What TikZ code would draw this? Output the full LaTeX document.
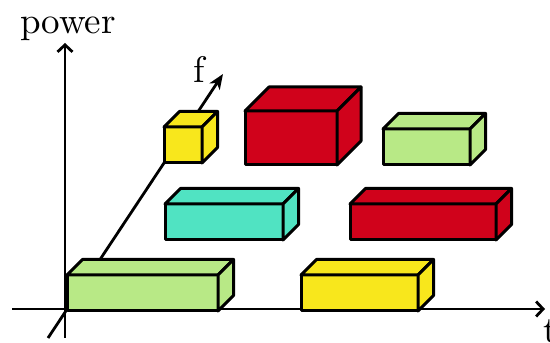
\documentclass[tikz,border=0pt]{standalone}
\usepackage{fontspec}
\setmainfont{lmroman10-regular.otf}
\usepackage{xcolor}
\usepackage{tikz}
\usetikzlibrary{arrows.meta, positioning}

\definecolor{boxred}{HTML}{D0021B}
\definecolor{boxyellow}{HTML}{F8E71C}
\definecolor{boxgreen}{HTML}{B8E986}
\definecolor{boxteal}{HTML}{50E3C2}

\begin{document}
\begin{tikzpicture}[x=1pt, y=1pt,
            face/.style={draw, line width=3pt, line join=round},
            front/.style={face, rectangle, inner sep=0pt, outer sep=0pt},
            axis/.style={line width=2.8pt, -{Straight Barb[length=7pt, width=15pt]}},
            lbl/.style={inner sep=0pt, anchor=base, font=\fontsize{37}{40}\selectfont}]

            \useasboundingbox (0,0) rectangle (550,343);

            % axes
            \coordinate (tstart) at (12,34);
            \coordinate (tend) at (545,34);
            \coordinate (pstart) at (65,5);
            \coordinate (pend) at (65,300);
            \coordinate (fstart) at (48,5);
            \coordinate (fend) at (223,269);

            \draw[axis] (tstart) -- (tend);
            \draw[axis] (pstart) -- (pend);
            \draw[line width=2.8pt, -{Stealth[length=15pt, width=12pt, inset=4pt]}] (fstart) -- (fend);

            \node[lbl] (power) at (68,309.7) {power};
            \node[lbl] (flbl) at (199,260) {f};
            \node[lbl, anchor=base west] (tlbl) at (543.5,0) {t};

            % front faces
            \node[front, fill=boxgreen, minimum width=151pt, minimum height=36pt] (green1) at (142.5,50) {};
            \node[front, fill=boxyellow, minimum width=117pt, minimum height=36pt] (yellow1) at (359.5,50) {};
            \node[front, fill=boxteal, minimum width=118pt, minimum height=36pt] (teal1) at (224,121) {};
            \node[front, fill=boxred, minimum width=146pt, minimum height=36pt] (red1) at (423,121) {};
            \node[front, fill=boxyellow, minimum width=38pt, minimum height=36pt] (yellow2) at (183,198) {};
            \node[front, fill=boxred, minimum width=92pt, minimum height=54pt] (red2) at (291,205) {};
            \node[front, fill=boxgreen, minimum width=87pt, minimum height=36pt] (green2) at (426.5,196) {};

            % top and side faces
            \foreach \n/\c/\d in {green1/boxgreen/15.5, yellow1/boxyellow/15.5, teal1/boxteal/15.5,
                                  red1/boxred/15.5, yellow2/boxyellow/15.5, red2/boxred/24, green2/boxgreen/15.5} {
                \draw[face, fill=\c] (\n.north west) -- ++(\d,\d) -- ([shift={(\d,\d)}]\n.north east) -- (\n.north east) -- cycle;
                \draw[face, fill=\c] (\n.north east) -- ++(\d,\d) -- ([shift={(\d,\d)}]\n.south east) -- (\n.south east) -- cycle;
            }
        \end{tikzpicture}
\end{document}
